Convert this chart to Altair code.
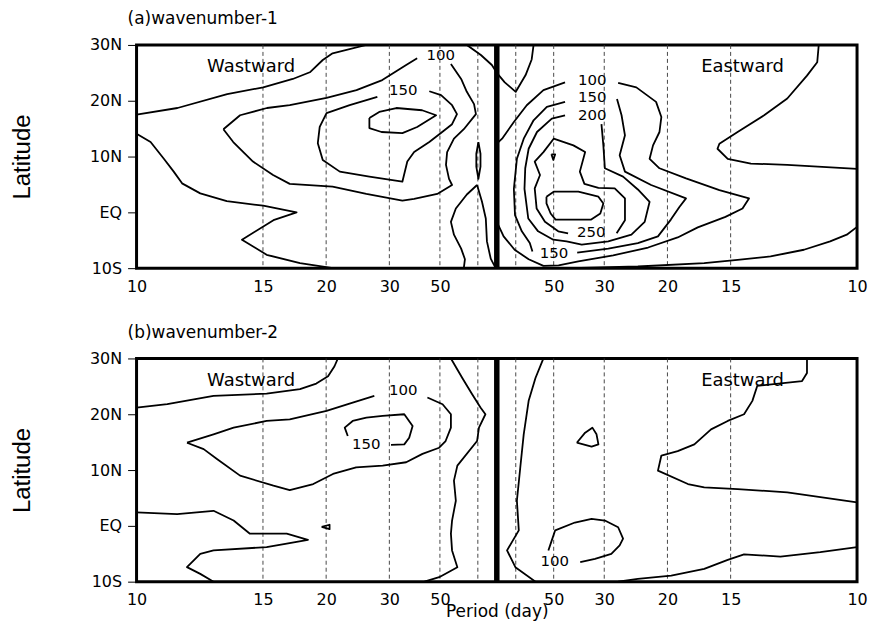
import altair as alt
import pandas as pd

# x: frequency in 10^-3 cycles/day (negative = westward), y: latitude (deg, S<0)
LOW_FREQ = 5                      # lowest frequency shown (200-day period) lies on the centre line
TICK_PERIODS = [10, 15, 20, 30, 50]
DASH_PERIODS = [15, 20, 30, 50, 100]
LAT_TICKS = [-10, 0, 10, 20, 30]

# ---------------- (a) wavenumber-1 ----------------
A_LINES = {
    "c1": [(-100, 17.5), (-89.2, 18.7), (-76.1, 21.2), (-66.6, 22.4), (-58.8, 23.9), (-54.3, 25.1),
           (-50.9, 27.3), (-48.3, 28.5), (-39.4, 30)],
    "c2": [(-100, 14.1), (-96.3, 12.6), (-92.8, 9.6), (-90.2, 7.3), (-88.0, 5.2), (-83.2, 3.4), (-76.2, 2.0),
           (-66.6, 1.2), (-57.8, 0.0), (-63.9, -1.4), (-72.2, -4.9), (-65.7, -7.6), (-56.9, -9.1), (-48.2, -10)],
    "w100a": [(-77.1, 14.9), (-72.7, 17.4), (-65.6, 18.7), (-59.6, 19.2), (-49.9, 20.5), (-42.0, 21.9),
              (-35.2, 23.7), (-28.9, 26.4), (-26.0, 27.6)],
    "w100b": [(-17.1, 26.6), (-14.4, 23.9), (-12.9, 21.6), (-11.0, 19.4), (-10.5, 17.6), (-13.7, 14.9),
              (-16.3, 13.2), (-18.1, 10.8), (-18.4, 8.5), (-17.6, 6.0), (-16.8, 4.9), (-20.7, 3.3), (-26.8, 2.4),
              (-29.9, 2.1), (-39.4, 3.3), (-48.3, 4.6), (-59.6, 5.1), (-64.0, 6.7), (-69.3, 9.1), (-74.5, 12.6),
              (-77.1, 14.9)],
    "w150": [(-22.8, 21.7), (-19.7, 21.0), (-16.8, 19.2), (-15.5, 17.6), (-16.8, 15.8), (-19.4, 14.4),
             (-22.8, 12.6), (-26.8, 10.8), (-28.6, 9.1), (-29.9, 5.5), (-38.6, 6.4), (-46.4, 7.3), (-50.9, 9.4),
             (-52.2, 12.4), (-51.7, 15.3), (-49.9, 17.8), (-43.8, 19.2), (-36.5, 20.7)],
    "w200": [(-38.6, 16.9), (-38.6, 15.1), (-35.4, 14.4), (-29.9, 14.2), (-26.0, 15.3), (-21.0, 17.4),
             (-24.7, 18.3), (-31.5, 18.7), (-36.0, 18.0), (-38.6, 16.9)],
    "v": [(-12.9, 30), (-9.2, 28.2), (-6.3, 26.4), (-5.0, 25.0), (7.1, 23.3), (10.0, 21.6), (12.6, 24.6),
          (14.2, 27.4), (14.7, 30)],
    "lens": [(-9.85, 12.6), (-9.3, 10.5), (-9.3, 8.2), (-9.85, 6.0), (-10.4, 8.2), (-10.4, 10.5), (-9.85, 12.6)],
    "x1": [(-10.2, 4.9), (-12.9, 3.2), (-15.8, 0.7), (-17.1, -1.7), (-16.3, -4.0), (-14.4, -6.5), (-13.4, -8.4),
           (-13.7, -10)],
    "x2": [(-10.2, 4.9), (-8.9, 1.9), (-7.9, -1.1), (-7.6, -5.2), (-6.6, -8.3), (-5.3, -10)],
    "e100a": [(5.0, 12.3), (6.4, 13.2), (9.5, 16.2), (12.9, 19.2), (17.3, 21.9), (23.0, 23.3)],
    "e100b": [(37.0, 23.2), (41.8, 22.4), (47.0, 19.8), (48.4, 17.1), (47.9, 14.4), (46.2, 12.0), (45.3, 9.6),
              (47.9, 7.9), (54.9, 6.1), (63.7, 4.0), (71.5, 2.5), (69.8, 0.7), (65.3, -0.8), (58.0, -2.7),
              (52.7, -4.5), (44.9, -6.3), (35.7, -7.7), (26.5, -8.8), (21.3, -9.5), (17.3, -9.6), (13.4, -8.4),
              (9.7, -6.7), (6.8, -4.3), (5.0, -1.7)],
    "e150a": [(23.0, 19.8), (18.2, 18.9), (14.7, 16.5), (12.1, 13.2), (10.3, 9.6), (9.5, 4.2), (9.8, -0.5),
              (11.6, -3.4), (13.7, -5.5), (14.4, -7.0)],
    "e150b": [(26.2, -7.2), (34.4, -6.5), (42.2, -5.5), (47.5, -4.3), (50.9, -1.3), (53.2, 1.0), (54.9, 2.5),
              (45.7, 4.9), (38.8, 7.3), (37.4, 10.25), (38.8, 13.8), (37.9, 17.4), (36.7, 20.3)],
    "e200": [(23.0, 17.4), (19.5, 16.8), (15.6, 14.4), (13.4, 11.4), (12.5, 7.9), (12.3, 4.2), (13.3, -1.1),
             (15.9, -3.4), (19.9, -4.9), (23.4, -5.2), (27.4, -5.8), (34.4, -5.2), (40.5, -4.0), (44.0, -1.7),
             (45.3, 1.9), (42.2, 4.1), (38.3, 6.4), (33.5, 7.9), (33.1, 12.0), (32.6, 15.8)],
    "e250": [(36.6, -3.75), (38.8, -1.4), (38.8, 2.5), (36.1, 4.3), (31.8, 4.4), (28.1, 5.1), (26.9, 7.3),
             (28.3, 10.8), (25.2, 12.0), (20.0, 13.2), (17.3, 10.8), (15.0, 9.1), (16.4, 6.7), (15.0, 4.3),
             (15.5, 0.7), (17.7, -1.7), (21.2, -3.4), (23.8, -3.75)],
    "e300": [(18.1, 2.8), (20.0, 3.7), (26.5, 3.7), (31.8, 2.8), (33.1, 1.6), (32.3, -0.2), (29.9, -1.3),
             (20.5, -1.3), (19.2, -0.2), (18.1, 1.6), (18.1, 2.8)],
    "dot": [(19.4, 10.4), (20.4, 10.4), (19.9, 9.4), (19.4, 10.4)],
    "r1": [(89.9, 30), (89.5, 26.9), (86.8, 24.5), (81.6, 20.4), (75.5, 17.4), (68.5, 14.4), (63.7, 12.3),
           (63.2, 11.4), (65.9, 9.6), (72.0, 8.75), (81.6, 8.5), (100, 7.8)],
    "r2": [(100, -2.6), (97.3, -4.0), (92.9, -5.2), (86.0, -6.7), (77.2, -7.9), (68.5, -8.5), (59.7, -9.1),
           (42.2, -9.7), (24.7, -10)],
}
A_LABELS = [("100", -19.8, 28.2), ("150", -29.7, 21.9), ("100", 30.2, 23.7), ("150", 30.2, 20.6),
            ("200", 30.2, 17.4), ("250", 29.9, -3.6), ("150", 20.1, -7.3)]

# ---------------- (b) wavenumber-2 ----------------
B_LINES = {
    "c1": [(-100, 21.2), (-91.9, 21.8), (-79.7, 23.3), (-65.7, 23.7), (-56.9, 24.5), (-52.6, 25.5),
           (-49.5, 26.8), (-47.8, 28.6), (-46.9, 30)],
    "w100a": [(-86.7, 14.9), (-79.7, 16.4), (-74.4, 17.6), (-65.7, 18.8), (-59.6, 19.1), (-49.9, 20.6),
              (-43.0, 22.1), (-37.3, 23.3)],
    "w100b": [(-23.3, 23.0), (-19.3, 21.8), (-17.1, 20.0), (-17.1, 17.6), (-18.5, 15.2), (-20.2, 14.0),
              (-24.6, 12.9), (-28.9, 11.4), (-35.1, 10.8), (-42.1, 10.5), (-48.2, 9.3), (-53.4, 7.5),
              (-59.6, 6.4), (-63.9, 7.2), (-72.7, 9.0), (-78.8, 12.0), (-82.3, 13.75), (-86.7, 14.9)],
    "w150": [(-44.3, 16.1), (-45.1, 17.6), (-43.0, 18.8), (-39.4, 19.4), (-35.1, 19.7), (-29.4, 20.0),
             (-27.2, 17.9), (-28.1, 15.8), (-29.4, 14.6), (-32.9, 14.5)],
    "c4": [(-100, 2.4), (-89.3, 2.1), (-79.7, 2.7), (-74.4, 0.95), (-70.1, -1.4), (-60.4, -1.4), (-54.8, -2.5),
           (-60.4, -3.2), (-65.7, -3.8), (-79.7, -4.4), (-83.2, -5.0), (-86.7, -7.4), (-83.2, -8.6), (-79.7, -10)],
    "dot": [(-51.2, -0.2), (-49.1, 0.2), (-49.1, -0.6), (-51.2, -0.2)],
    "c6": [(-17.1, 30), (-14.1, 26.5), (-11.5, 23.6), (-9.3, 21.2), (-8.0, 20.0), (-9.7, 17.6), (-10.2, 15.2),
           (-15.4, 10.8), (-16.3, 8.1), (-15.8, 4.5), (-16.8, 0.95), (-17.1, -1.4), (-16.8, -4.4), (-15.4, -7.4),
           (-20.2, -9.2), (-24.1, -10)],
    "e1": [(17.3, 30), (15.2, 26.5), (13.4, 22.4), (12.1, 16.4), (11.2, 10.5), (10.3, 4.5), (10.8, -0.8),
           (7.7, -4.4), (9.9, -7.4), (15.2, -10)],
    "e2": [(26.1, 14.9), (28.3, 16.7), (30.2, 17.6), (31.3, 16.4), (31.8, 14.6), (30.0, 14.2), (26.1, 14.9)],
    "e100": [(27.0, -6.5), (30.9, -5.9), (35.2, -5.0), (37.4, -3.5), (38.3, -2.3), (37.0, -0.25), (33.5, 0.95),
             (30.0, 1.25), (25.6, 0.6), (20.4, -0.8), (19.5, -2.6), (18.6, -4.4)],
    "e4": [(86.8, 30), (86.8, 27.4), (85.5, 25.95), (73.7, 25.1), (72.4, 22.4), (70.2, 20.0), (65.9, 18.8),
           (61.5, 17.3), (57.1, 14.6), (52.7, 13.4), (48.4, 12.6), (47.5, 9.9), (55.4, 7.5), (59.7, 6.9),
           (68.5, 6.6), (81.6, 6.0), (100, 4.2)],
    "e5": [(100, -3.8), (90.3, -4.7), (79.8, -5.5), (70.2, -5.1), (65.9, -6.1), (59.7, -7.7), (51.0, -8.9),
           (42.2, -9.5), (37.0, -10)],
}
B_LABELS = [("100", -29.7, 24.3), ("150", -39.4, 14.6), ("100", 20.3, -6.3)]

DIRECTIONS = [("Wastward", -69.8, 26.0), ("Eastward", 69.8, 26.0)]

FONT = "DejaVu Sans"
POS = f"datum.freq < 0 ? datum.freq + {LOW_FREQ} : datum.freq - {LOW_FREQ}"
XMAX = 1000 / min(TICK_PERIODS) - LOW_FREQ
X_VALUES = [-(1000 / p - LOW_FREQ) for p in TICK_PERIODS] + [1000 / p - LOW_FREQ for p in reversed(TICK_PERIODS)]


def lines_df(d):
    rows = []
    for name, pts in d.items():
        for i, (f, la) in enumerate(pts):
            rows.append({"seg": name, "i": i, "freq": f, "lat": la})
    return pd.DataFrame(rows)


def text_df(items):
    return pd.DataFrame([{"t": t, "freq": f, "lat": la} for t, f, la in items])


def make_panel(lines, labels, title, xtitle):
    xaxis = dict(values=X_VALUES, labelExpr=f"round(1000/(abs(datum.value)+{LOW_FREQ}))",
                 ticks=False, tickSize=0, domain=False, grid=False, labelPadding=10,
                 labelFont=FONT, labelFontSize=16, labelColor="black", labelFlush=False)
    if xtitle:
        xaxis.update(title=xtitle, titleFont=FONT, titleFontSize=17, titleFontWeight="normal",
                     titleColor="black", titleBaseline="alphabetic", titleY=35)
    else:
        xaxis.update(title=None)
    x = alt.X("pos:Q", scale=alt.Scale(domain=[-XMAX, XMAX], nice=False, zero=False), axis=alt.Axis(**xaxis))
    y = alt.Y("lat:Q", scale=alt.Scale(domain=[min(LAT_TICKS), max(LAT_TICKS)], nice=False, zero=False),
              axis=alt.Axis(values=LAT_TICKS,
                            labelExpr="datum.value == 0 ? 'EQ' : (datum.value > 0 ? datum.value + 'N' : (-datum.value) + 'S')",
                            grid=False, domain=False, tickSize=9, tickWidth=1, tickColor="black", labelPadding=6,
                            labelFont=FONT, labelFontSize=16, labelColor="black",
                            title="Latitude", titleFont="Liberation Sans", titleFontSize=24,
                            titleFontWeight="normal", titleColor="black", titleX=-102, titleY=112,
                            titleAlign="center", titleAngle=270, titleBaseline="bottom"))

    dash_rows = [{"freq": s * 1000 / p} for p in DASH_PERIODS for s in (-1, 1)]
    dash = alt.Chart(pd.DataFrame(dash_rows)).transform_calculate(pos=POS).mark_rule(
        color="#333333", strokeWidth=0.9, strokeDash=[4, 3]).encode(x=x)
    cont = alt.Chart(lines_df(lines)).transform_calculate(pos=POS).mark_line(
        color="black", strokeWidth=1.8, strokeJoin="round", clip=True).encode(
        x=x, y=y, detail="seg:N", order="i:Q")
    centre = alt.Chart(pd.DataFrame({"freq": [LOW_FREQ]})).transform_calculate(pos=POS).mark_rule(
        color="black", strokeWidth=5.5).encode(x=x)
    labs = alt.Chart(text_df(labels)).transform_calculate(pos=POS).mark_text(
        font=FONT, fontSize=15, color="black").encode(x=x, y=y, text="t:N")
    words = alt.Chart(text_df(DIRECTIONS)).transform_calculate(pos=POS).mark_text(
        font=FONT, fontSize=18, color="black").encode(x=x, y=y, text="t:N")
    return alt.layer(dash, cont, centre, labs, words).properties(
        width=723, height=224,
        title=alt.TitleParams(text=title, anchor="start", frame="group", font=FONT, fontSize=17,
                              fontWeight="normal", color="black", dx=-9, offset=9))


pa = make_panel(A_LINES, A_LABELS, "(a)wavenumber-1", None)
pb = make_panel(B_LINES, B_LABELS, "(b)wavenumber-2", "Period (day)")

chart = alt.vconcat(pa, pb, spacing=90.6, bounds="flush").configure_view(
    stroke="black", strokeWidth=3).properties(
    padding={"left": 1, "top": -1, "right": 0, "bottom": 0}, background="white")

chart.save("out.html", embed_options={"renderer": "svg", "actions": False})
